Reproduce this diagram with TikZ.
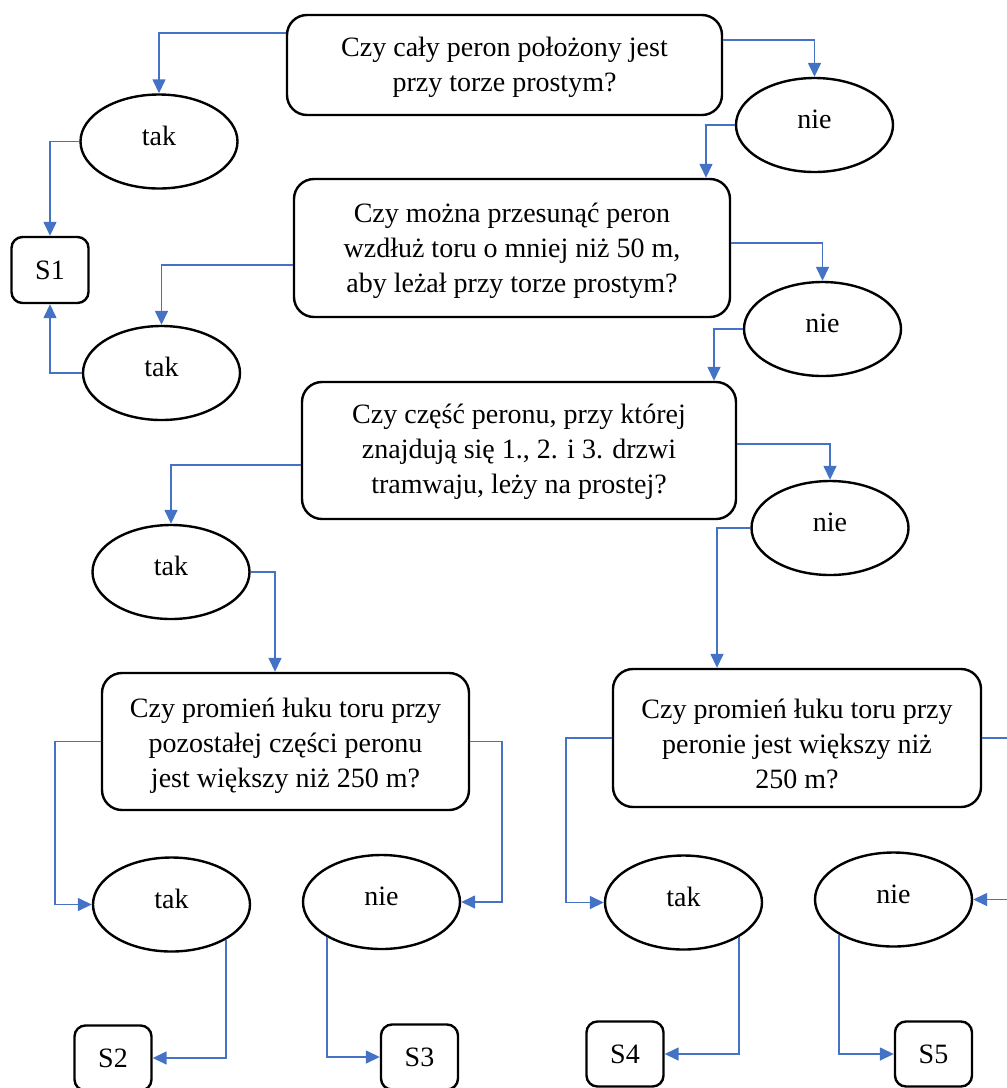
\documentclass[tikz,border=0pt]{standalone}
\usepackage{fontspec}
\setmainfont{Liberation Serif}
\usetikzlibrary{shapes.geometric,arrows.meta}
\definecolor{linkblue}{HTML}{4472C4}
\newcommand{\firstgap}[1]{\rule{0pt}{#1}}
\begin{document}
\begin{tikzpicture}[x=1pt,y=-1pt,
  every node/.style={font=\fontsize{28}{35}\selectfont},
  qbox/.style={draw, line width=2.4pt, rounded corners=20pt, align=center, inner sep=0pt},
  oval/.style={draw, ellipse, line width=2.4pt, minimum width=157pt, minimum height=94pt, inner sep=0pt, text height=19pt, text depth=12pt},
  sbox/.style={draw, line width=2.4pt, rounded corners=11pt, minimum width=77pt, minimum height=65pt, inner sep=0pt},
  conn/.style={draw=linkblue, line width=1.5pt, -{Triangle[length=14pt,width=13pt]}}
]
\useasboundingbox (0,0) rectangle (1007,1088);
\clip (0,0) rectangle (1007,1088);

% questions
\node[qbox, minimum width=435pt, minimum height=100pt] (q1) at (504.5,65)
  {\firstgap{24.5pt}Czy cały peron położony jest\\przy torze prostym?};
\node[qbox, minimum width=436pt, minimum height=138pt] (q2) at (512,248)
  {\firstgap{24.5pt}Czy można przesunąć peron\\wzdłuż toru o mniej niż 50 m,\\aby leżał przy torze prostym?};
\node[qbox, minimum width=434pt, minimum height=137pt] (q3) at (519,450.5)
  {\firstgap{22pt}Czy część peronu, przy której\\znajdują się 1., 2. i 3. drzwi\\tramwaju, leży na prostej?};
\node[qbox, minimum width=367pt, minimum height=137pt] (q4) at (285.5,741.5)
  {\firstgap{27.5pt}Czy promień łuku toru przy\\pozostałej części peronu\\jest większy niż 250 m?};
\node[qbox, minimum width=368pt, minimum height=138pt] (q5) at (797,738)
  {\firstgap{32pt}Czy promień łuku toru przy\\peronie jest większy niż\\250 m?};

% answers
\node[oval] (tak1) at (159,141.5) {tak};
\node[oval] (nie1) at (814.5,125) {nie};
\node[oval] (tak2) at (161.5,373) {tak};
\node[oval] (nie2) at (822.5,329) {nie};
\node[oval] (tak3) at (171,572) {tak};
\node[oval] (nie3) at (830,528) {nie};
\node[oval] (tak4) at (171.5,904.5) {tak};
\node[oval] (nie4) at (381.5,902) {nie};
\node[oval] (tak5) at (683.5,902.5) {tak};
\node[oval] (nie5) at (893.5,899.5) {nie};

% results
\node[sbox, minimum height=66pt] (s1) at (50,270) {S1};
\node[sbox] (s2) at (113,1058) {S2};
\node[sbox] (s3) at (419.5,1057) {S3};
\node[sbox] (s4) at (625,1054) {S4};
\node[sbox] (s5) at (933.5,1054) {S5};

% connectors
\draw[conn] ([yshift=32pt]q1.west) -| (tak1.north);
\draw[conn] ([yshift=25pt]q1.east) -| (nie1.north);
\draw[conn] (tak1.west) -| (s1.north);
\draw[conn] (nie1.west) -| ([xshift=194pt]q2.north);
\draw[conn] ([yshift=-17pt]q2.west) -| (tak2.north);
\draw[conn] (tak2.west) -| (s1.south);
\draw[conn] ([yshift=5pt]q2.east) -| (nie2.north);
\draw[conn] (nie2.west) -| ([xshift=195pt]q3.north);
\draw[conn] ([yshift=-14.5pt]q3.west) -| (tak3.north);
\draw[conn] ([yshift=6.5pt]q3.east) -| (nie3.north);
\draw[conn] (tak3.east) -| ([xshift=-10.5pt]q4.north);
\draw[conn] (nie3.west) -| ([xshift=-80pt]q5.north);
\draw[conn] (q4.west) -- ++(-46,0) |- (tak4.west);
\draw[conn] (q4.east) -- ++(32,0) |- (nie4.east);
\draw[conn] (tak4.-33) |- (s2.east);
\draw[conn] (nie4.-147) |- (s3.west);
\draw[conn] (q5.west) -- ++(-46,0) |- (tak5.west);
\draw[conn] (q5.east) -- ++(45,0) |- (nie5.east);
\draw[conn] (tak5.-32) |- (s4.east);
\draw[conn] (nie5.-147) |- (s5.west);
\end{tikzpicture}
\end{document}
